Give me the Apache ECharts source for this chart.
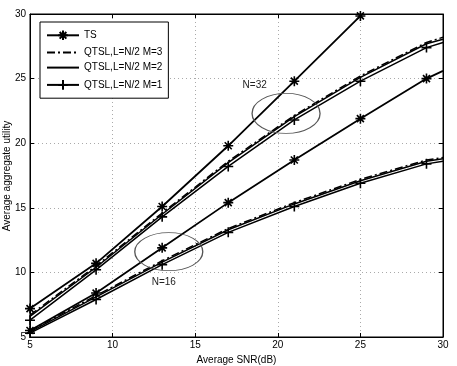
<!DOCTYPE html>
<html>
<head>
<meta charset="utf-8">
<script src="https://cdn.jsdelivr.net/npm/echarts@6/dist/echarts.min.js"></script>
<style>
  html, body { margin: 0; padding: 0; background: #fff; }
  #chart { width: 457px; height: 366px; }
</style>
</head>
<body>
<div id="chart"></div>
<script>
!(function (window) {
    const { echarts } = window;

    // x positions of the samples (markers every 4 dB, last one at the right edge)
    const snr = [5, 9, 13, 17, 21, 25, 29, 30];

    // N = 32
    const ts32 = [7.2, 10.7, 15.1, 19.8, 24.8, 29.85];
    const m3n32 = [6.7, 10.5, 14.6, 18.6, 22.15, 25.2, 27.8, 28.2];
    const m2n32 = [6.6, 10.4, 14.5, 18.5, 22.05, 25.1, 27.7, 28.05];
    const m1n32 = [6.3, 10.2, 14.3, 18.2, 21.8, 24.8, 27.4, 27.8];

    // N = 16
    const ts16 = [5.5, 8.4, 11.9, 15.4, 18.7, 21.9, 25.0, 25.6];
    const m3n16 = [5.5, 8.2, 10.9, 13.4, 15.4, 17.2, 18.7, 18.9];
    const m2n16 = [5.4, 8.1, 10.8, 13.3, 15.3, 17.1, 18.6, 18.8];
    const m1n16 = [5.3, 7.9, 10.6, 13.1, 15.1, 16.9, 18.4, 18.6];

    const names = ['TS', 'QTSL,L=N/2 M=3', 'QTSL,L=N/2 M=2', 'QTSL,L=N/2 M=1'];

    const STAR = 'path://M0,5L10,5M5,0L5,10M1.5,1.5L8.5,8.5M1.5,8.5L8.5,1.5';
    const PLUS = 'path://M0,5L10,5M5,0L5,10';

    // pair x and y, last edge point gets no marker
    const pts = ys => ys.map((y, i) => (snr[i] === 30 ? { value: [snr[i], y], symbol: 'none' } : [snr[i], y]));

    const mkLine = (name, ys, opts) => Object.assign({
        name,
        type: 'line',
        data: pts(ys),
        symbolSize: 10,
        lineStyle: { color: '#000', width: 1.5 },
        itemStyle: { color: 'none', borderColor: '#000', borderWidth: 1.6 },
        emphasis: { disabled: true },
    }, opts);

    // a line without markers, whose legend icon is only the line
    const bare = {
        symbol: PLUS,
        showSymbol: false,
        itemStyle: { color: 'none', borderColor: 'rgba(0,0,0,0)', borderWidth: 0 },
    };

    const ring = (x, y, w, h) => ({
        coord: [x, y],
        symbol: 'circle',
        symbolSize: [w, h],
        itemStyle: { color: 'rgba(0,0,0,0)', borderColor: '#555', borderWidth: 1 },
        label: { show: false },
    });
    const note = (x, y, text) => ({
        coord: [x, y],
        symbol: 'circle',
        symbolSize: 1,
        itemStyle: { color: 'rgba(0,0,0,0)' },
        label: { show: true, position: 'inside', formatter: text, color: '#222', fontSize: 10, fontFamily: 'Liberation Sans' },
    });

    const dashDot = [8, 3, 2, 3];

    const chart = echarts.init(document.getElementById('chart'));
    chart.setOption({
        animation: false,
        backgroundColor: '#fff',
        textStyle: { fontFamily: 'Liberation Sans' },
        grid: {
            left: 30, right: 14, top: 14, bottom: 29,
            outerBoundsMode: 'none',
            show: true, borderColor: '#000', borderWidth: 1,
        },
        // y axis title
        graphic: [{
            type: 'text',
            x: 7,
            y: 176,
            rotation: Math.PI / 2,
            style: {
                text: 'Average aggregate utility',
                fill: '#000',
                fontSize: 10,
                fontFamily: 'Liberation Sans',
                align: 'center',
                verticalAlign: 'middle',
            },
        }],
        legend: {
            data: names,
            orient: 'vertical',
            left: 40,
            top: 22,
            backgroundColor: '#fff',
            borderColor: '#000',
            borderWidth: 1,
            borderRadius: 0,
            padding: [6, 6, 6, 6],
            itemWidth: 32,
            itemHeight: 12,
            itemGap: 5,
            textStyle: { fontSize: 10, color: '#000', fontFamily: 'Liberation Sans' },
            selectedMode: false,
        },
        xAxis: [{
            type: 'value',
            min: 5,
            max: 30,
            interval: 5,
            name: 'Average SNR(dB)',
            nameLocation: 'middle',
            nameGap: 13,
            nameTextStyle: { fontSize: 10, color: '#000' },
            axisLine: { lineStyle: { color: '#000' } },
            axisTick: { inside: true, length: 4, lineStyle: { color: '#000' } },
            axisLabel: { fontSize: 10, color: '#000', margin: 3 },
            splitLine: { show: true, lineStyle: { color: '#aaa', type: [1, 3] } },
        }, {
            type: 'value',
            position: 'top',
            min: 5,
            max: 30,
            interval: 5,
            axisLine: { lineStyle: { color: '#000' } },
            axisTick: { inside: true, length: 4, lineStyle: { color: '#000' } },
            axisLabel: { show: false },
            splitLine: { show: false },
        }],
        yAxis: [{
            type: 'value',
            min: 5,
            max: 30,
            interval: 5,
            axisLine: { lineStyle: { color: '#000' } },
            axisTick: { inside: true, length: 4, lineStyle: { color: '#000' } },
            axisLabel: { fontSize: 10, color: '#000', margin: 4 },
            splitLine: { show: true, lineStyle: { color: '#aaa', type: [1, 3] } },
        }, {
            type: 'value',
            position: 'right',
            min: 5,
            max: 30,
            interval: 5,
            axisLine: { lineStyle: { color: '#000' } },
            axisTick: { inside: true, length: 4, lineStyle: { color: '#000' } },
            axisLabel: { show: false },
            splitLine: { show: false },
        }],
        series: [
            mkLine(names[0], ts32, {
                symbol: STAR,
                lineStyle: { color: '#000', width: 1.8 },
                markPoint: {
                    silent: true,
                    animation: false,
                    data: [
                        ring(20.5, 22.3, 68, 40),
                        ring(13.4, 11.6, 68, 38),
                        note(18.6, 24.5, 'N=32'),
                        note(13.1, 9.2, 'N=16'),
                    ],
                },
            }),
            mkLine(names[1], m3n32, Object.assign({ lineStyle: { color: '#000', width: 1.5, type: dashDot } }, bare)),
            mkLine(names[2], m2n32, bare),
            mkLine(names[3], m1n32, { symbol: PLUS }),
            mkLine(names[0], ts16, { symbol: STAR, lineStyle: { color: '#000', width: 1.8 } }),
            mkLine(names[1], m3n16, Object.assign({ lineStyle: { color: '#000', width: 1.5, type: dashDot } }, bare)),
            mkLine(names[2], m2n16, bare),
            mkLine(names[3], m1n16, { symbol: PLUS }),
        ],
    });
}(window));
</script>
</body>
</html>
